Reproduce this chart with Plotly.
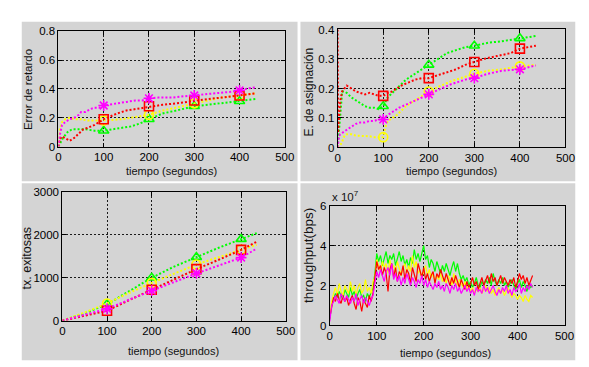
import plotly.graph_objects as go

W, H = 589, 367

# ---------------- data ----------------
# Panel 1: Error de retardo
err_red_t = [0, 3, 8, 15, 25, 35, 45, 55, 65, 80, 90, 100, 115, 130, 150, 170, 185, 200, 230, 260, 300, 330, 360, 400, 435]
err_red_v = [0, 0.05, 0.07, 0.06, 0.04, 0.06, 0.09, 0.12, 0.13, 0.15, 0.17, 0.19, 0.21, 0.23, 0.25, 0.26, 0.27, 0.28, 0.29, 0.3, 0.32, 0.33, 0.34, 0.355, 0.37]
err_grn_t = [0, 5, 10, 20, 30, 45, 60, 80, 100, 120, 140, 160, 180, 200, 230, 260, 300, 330, 360, 400, 435]
err_grn_v = [0, 0.03, 0.06, 0.1, 0.12, 0.12, 0.12, 0.11, 0.11, 0.12, 0.13, 0.14, 0.16, 0.19, 0.23, 0.25, 0.28, 0.29, 0.3, 0.315, 0.33]
err_yel_t = [0, 3, 8, 15, 25, 35, 50, 65, 80, 100, 120, 140, 160, 180, 200, 230, 260, 300, 330, 360, 400, 435]
err_yel_v = [0, 0.12, 0.17, 0.19, 0.2, 0.19, 0.19, 0.18, 0.18, 0.18, 0.185, 0.19, 0.2, 0.21, 0.22, 0.25, 0.27, 0.3, 0.32, 0.34, 0.355, 0.37]
err_mag_t = [0, 3, 8, 15, 25, 35, 45, 50, 60, 70, 80, 90, 100, 115, 130, 150, 170, 185, 200, 220, 250, 280, 300, 320, 350, 380, 400, 420, 435]
err_mag_v = [0, 0.08, 0.15, 0.17, 0.19, 0.2, 0.22, 0.24, 0.24, 0.26, 0.27, 0.27, 0.285, 0.29, 0.3, 0.31, 0.32, 0.32, 0.335, 0.34, 0.34, 0.35, 0.355, 0.36, 0.37, 0.38, 0.39, 0.405, 0.41]

# Panel 2: E. de asignacion
asg_red_t = [0, 1, 2, 4, 6, 10, 15, 20, 25, 30, 40, 50, 60, 70, 80, 90, 100, 110, 120, 130, 140, 155, 170, 185, 200, 220, 240, 260, 280, 300, 320, 350, 380, 400, 420, 435]
asg_red_v = [0.4, 0.05, 0.08, 0.12, 0.16, 0.19, 0.2, 0.21, 0.205, 0.2, 0.19, 0.185, 0.18, 0.185, 0.18, 0.175, 0.175, 0.185, 0.19, 0.2, 0.21, 0.22, 0.23, 0.235, 0.235, 0.245, 0.255, 0.265, 0.28, 0.29, 0.3, 0.31, 0.32, 0.335, 0.34, 0.345]
asg_grn_t = [0, 3, 6, 10, 15, 20, 30, 40, 50, 60, 70, 80, 90, 100, 110, 120, 135, 150, 170, 185, 200, 220, 240, 260, 280, 300, 330, 360, 400, 435]
asg_grn_v = [0, 0.05, 0.12, 0.19, 0.19, 0.185, 0.17, 0.16, 0.15, 0.14, 0.135, 0.135, 0.13, 0.14, 0.17, 0.185, 0.21, 0.23, 0.25, 0.265, 0.28, 0.3, 0.32, 0.33, 0.34, 0.345, 0.355, 0.36, 0.37, 0.378]
asg_yel_t = [0, 5, 10, 15, 20, 30, 40, 50, 60, 70, 80, 90, 100, 105, 110, 120, 130, 140, 150, 165, 180, 200, 220, 250, 280, 300, 330, 360, 400, 435]
asg_yel_v = [0, 0.005, 0.02, 0.04, 0.045, 0.045, 0.04, 0.04, 0.04, 0.038, 0.035, 0.035, 0.035, 0.07, 0.09, 0.1, 0.11, 0.125, 0.14, 0.155, 0.17, 0.19, 0.205, 0.225, 0.24, 0.25, 0.26, 0.265, 0.275, 0.28]
asg_mag_t = [0, 3, 6, 10, 20, 30, 40, 50, 60, 70, 80, 90, 100, 110, 120, 135, 150, 165, 180, 200, 220, 250, 280, 300, 330, 360, 400, 435]
asg_mag_v = [0, 0.04, 0.045, 0.05, 0.06, 0.07, 0.08, 0.085, 0.085, 0.09, 0.09, 0.095, 0.095, 0.11, 0.12, 0.135, 0.145, 0.155, 0.165, 0.18, 0.195, 0.215, 0.23, 0.235, 0.25, 0.26, 0.265, 0.278]

# Panel 3: tx. exitosas
tx_t = [0, 50, 100, 150, 200, 250, 300, 350, 400, 435]
tx_grn = [0, 170, 380, 700, 1000, 1260, 1480, 1700, 1900, 2040]
tx_yel = [0, 190, 400, 650, 880, 1100, 1310, 1480, 1660, 1770]
tx_red = [0, 110, 230, 480, 720, 960, 1200, 1420, 1650, 1840]
tx_mag = [0, 130, 275, 490, 700, 900, 1100, 1290, 1470, 1680]

# Panel 4: throughput (x 10^7 bps), sampled every 4 s
thr_step = 4
thr_grn = [0.3, 1.1, 1.3, 1.6, 1.4, 1.7, 1.5, 1.3, 1.8, 1.6,
           1.4, 1.9, 1.5, 1.7, 1.3, 1.6, 1.8, 1.4, 1.5, 1.2,
           1.6, 1.4, 1.7, 1.9, 2.6, 3.6, 3.2, 3.5, 3.0, 3.4,
           3.7, 3.1, 3.5, 3.3, 3.6, 3.0, 3.4, 3.7, 3.2, 3.5,
           3.0, 3.3, 2.9, 3.4, 3.1, 3.8, 3.3, 3.6, 3.2, 3.7,
           4.0, 3.3, 3.5, 2.9, 3.3, 3.1, 2.7, 3.2, 2.9, 2.6,
           3.0, 2.7, 3.1, 2.8, 2.5, 2.9, 3.2, 2.7, 3.1, 2.6,
           2.3, 2.5, 2.2, 2.4, 2.0, 2.2, 1.9, 2.1, 2.4, 2.0,
           1.9, 2.2, 2.0, 2.3, 2.1, 2.4, 2.0, 2.6, 2.2, 2.0,
           2.3, 2.1, 2.4, 2.0, 2.2, 1.9, 2.1, 2.3, 2.0, 1.8,
           2.1, 2.3, 1.9, 2.2, 2.0, 1.7, 2.1, 1.9, 2.0]
thr_yel = [0.5, 1.2, 1.6, 1.9, 1.5, 2.1, 1.7, 1.5, 2.0, 1.8,
           1.6, 2.2, 1.7, 2.0, 1.5, 1.9, 2.1, 1.6, 1.8, 2.3,
           1.7, 1.9, 1.6, 2.2, 2.4, 3.3, 3.0, 2.7, 3.2, 2.9,
           3.1, 2.6, 3.3, 2.8, 3.0, 2.7, 3.2, 2.8, 2.5, 2.9,
           3.1, 2.6, 3.0, 2.7, 3.5, 2.9, 3.2, 2.6, 2.8, 2.4,
           2.7, 3.0, 2.5, 2.8, 2.4, 2.6, 2.2, 2.5, 2.3, 2.6,
           2.2, 2.4, 2.1, 2.5, 2.3, 2.0, 2.6, 2.2, 2.0, 2.3,
           2.1, 1.9, 2.2, 1.8, 2.0, 1.7, 1.9, 1.6, 1.8, 1.7,
           1.9, 1.6, 1.8, 2.0, 1.7, 1.9, 1.6, 1.8, 1.5, 1.7,
           1.9, 1.6, 1.8, 1.5, 1.7, 1.9, 1.6, 1.4, 1.6, 1.5,
           1.3, 1.5, 1.4, 1.2, 1.5, 1.3, 1.2, 1.5, 1.4]
thr_red = [0.4, 0.9, 1.4, 1.2, 1.6, 1.3, 1.1, 1.5, 1.2, 1.4,
           1.0, 1.3, 1.5, 1.1, 0.8, 1.4, 1.2, 0.7, 1.3, 1.1,
           0.9, 1.5, 1.2, 1.6, 2.3, 3.2, 2.8, 3.0, 2.5, 2.9,
           2.6, 1.7, 2.8, 3.1, 2.4, 2.9, 2.2, 2.7, 2.5, 3.0,
           2.3, 2.8, 2.6, 2.1, 2.9, 2.5, 2.2, 3.1, 2.7, 2.4,
           2.9, 2.3, 2.6, 2.2, 2.5, 2.7, 2.1, 2.6, 2.4, 2.8,
           2.5, 2.2, 2.6, 2.3, 2.0, 2.4, 2.1, 2.5, 2.2, 1.9,
           2.3, 2.0, 1.8, 2.2, 1.9, 2.1, 2.4, 2.0, 2.2, 1.8,
           2.1, 2.4, 2.0, 2.3, 2.5, 2.1, 2.6, 2.2, 2.4, 2.0,
           2.3, 2.5, 2.1, 2.4, 2.2, 2.0, 2.3, 2.1, 2.4, 1.9,
           2.2, 2.6, 2.3, 2.5, 2.1, 2.4, 2.0, 2.3, 2.5]
thr_mag = [0.2, 1.0, 1.2, 1.5, 1.3, 1.1, 1.6, 1.4, 1.2, 1.5,
           1.3, 1.1, 1.4, 1.2, 1.6, 1.0, 1.3, 1.5, 1.1, 1.4,
           1.2, 1.0, 1.3, 1.5, 2.1, 2.7, 2.4, 2.8, 2.5, 2.2,
           2.7, 2.9, 2.5, 3.1, 2.3, 2.6, 2.2, 2.5, 2.0, 2.4,
           2.1, 2.6, 2.3, 2.0, 2.4, 2.2, 1.9, 2.3, 2.1, 2.5,
           2.0, 2.3, 1.9, 2.2, 2.0, 1.8, 2.1, 1.9, 2.2, 1.8,
           2.0, 1.7, 2.1, 1.9, 1.6, 2.0, 1.8, 2.1, 1.7, 1.9,
           1.6, 1.8, 2.0, 1.7, 1.9, 1.6, 1.8, 1.5, 1.9, 1.7,
           1.8, 1.6, 2.0, 1.7, 1.9, 1.6, 1.8, 2.0, 1.7, 1.5,
           1.8, 1.6, 1.9, 1.7, 2.0, 1.6, 1.8, 1.5, 1.9, 1.7,
           1.8, 2.1, 1.6, 1.9, 1.7, 2.0, 1.8, 2.1, 1.9]

marker_times = [100, 200, 300, 400]

RED, GRN, YEL, MAG = "#ff0000", "#00ff00", "#ffff00", "#ff00ff"
FONT = "Liberation Sans, Arial, sans-serif"

# ---------------- layout geometry (pixels) ----------------
def xd(l, r):
    return [l / W, r / W]

def yd(t, b):
    return [1 - b / H, 1 - t / H]

panels = [  # x0, y0, x1, y1 (gray backgrounds)
    (11, 8, 293, 173), (296, 8, 577, 173), (11, 175, 293, 358), (296, 175, 577, 358)
]
plots = {  # left, top, right, bottom of plotting areas
    1: (48.5, 18, 280, 137),
    2: (334, 16, 567, 138),
    3: (52.5, 184, 281, 317),
    4: (326, 198, 566, 322),
}

fig = go.Figure()

def add_series(ax, t, v, color, symbol):
    xa = "x" if ax == 1 else f"x{ax}"
    ya = "y" if ax == 1 else f"y{ax}"
    fig.add_trace(go.Scatter(x=t, y=v, mode="lines", xaxis=xa, yaxis=ya,
                             line=dict(color=color, width=2, dash="2px,2px"),
                             hoverinfo="skip", showlegend=False))
    mx = [tt for tt in marker_times if tt in t]
    my = [v[t.index(tt)] for tt in mx]
    fig.add_trace(go.Scatter(x=mx, y=my, mode="markers", xaxis=xa, yaxis=ya,
                             marker=dict(symbol=symbol, size=9, color=color,
                                         line=dict(color=color, width=1.6)),
                             hoverinfo="skip", showlegend=False))

add_series(1, err_grn_t, err_grn_v, GRN, "triangle-up-open")
add_series(1, err_yel_t, err_yel_v, YEL, "circle-open")
add_series(1, err_red_t, err_red_v, RED, "square-open")
add_series(1, err_mag_t, err_mag_v, MAG, "asterisk-open")

add_series(2, asg_grn_t, asg_grn_v, GRN, "triangle-up-open")
add_series(2, asg_yel_t, asg_yel_v, YEL, "circle-open")
add_series(2, asg_red_t, asg_red_v, RED, "square-open")
add_series(2, asg_mag_t, asg_mag_v, MAG, "asterisk-open")

add_series(3, tx_t, tx_grn, GRN, "triangle-up-open")
add_series(3, tx_t, tx_yel, YEL, "circle-open")
add_series(3, tx_t, tx_red, RED, "square-open")
add_series(3, tx_t, tx_mag, MAG, "asterisk-open")

for vals, col in [(thr_grn, GRN), (thr_yel, YEL), (thr_red, RED), (thr_mag, MAG)]:
    tt = list(range(0, thr_step * len(vals), thr_step))
    fig.add_trace(go.Scatter(x=tt, y=vals, mode="lines", xaxis="x4", yaxis="y4",
                             line=dict(color=col, width=1.2),
                             hoverinfo="skip", showlegend=False))

xticks = [0, 100, 200, 300, 400, 500]
ycfg = {
    1: ([0, 0.2, 0.4, 0.6, 0.8], ["0", "0.2", "0.4", "0.6", "0.8"], [0, 0.8]),
    2: ([0, 0.1, 0.2, 0.3, 0.4], ["0", "0.1", "0.2", "0.3", "0.4"], [0, 0.4]),
    3: ([0, 1000, 2000, 3000], ["0", "1000", "2000", "3000"], [0, 3000]),
    4: ([0, 2, 4, 6], ["0", "2", "4", "6"], [0, 6]),
}

common = dict(showline=True, linecolor="black", linewidth=1, mirror="ticks",
              ticks="inside", ticklen=4, tickcolor="black", tickwidth=1,
              showgrid=True, gridcolor="#1a1a1a", griddash="2px,2px", gridwidth=1,
              zeroline=False, tickfont=dict(family=FONT, size=11.5, color="#000"),
              fixedrange=True)

layout = {}
for k in (1, 2, 3, 4):
    l, t, r, b = plots[k]
    xs = "xaxis" if k == 1 else f"xaxis{k}"
    ys = "yaxis" if k == 1 else f"yaxis{k}"
    anc_x = "y" if k == 1 else f"y{k}"
    anc_y = "x" if k == 1 else f"x{k}"
    tv, tt, rng = ycfg[k]
    layout[xs] = dict(domain=xd(l, r), anchor=anc_x, range=[0, 500],
                      tickvals=xticks, ticktext=[str(v) for v in xticks], **common)
    layout[ys] = dict(domain=yd(t, b), anchor=anc_y, range=rng,
                      tickvals=tv, ticktext=tt, **common)

shapes = [dict(type="rect", xref="paper", yref="paper", layer="below",
               x0=x0 / W, x1=x1 / W, y0=1 - y1 / H, y1=1 - y0 / H,
               fillcolor="#d4d4d4", line=dict(width=0)) for (x0, y0, x1, y1) in panels]

def ann(text, x, y, angle=0, xanchor="center", size=11):
    return dict(text=text, x=x / W, y=1 - y / H, xref="paper", yref="paper",
                showarrow=False, textangle=angle, xanchor=xanchor, yanchor="middle",
                font=dict(family=FONT, size=size, color="#111"))

annotations = [
    ann("tiempo (segundos)", 164, 162),
    ann("tiempo (segundos)", 450, 162),
    ann("tiempo (segundos)", 166, 348),
    ann("tiempo (segundos)", 444, 350),
    ann("Error de retardo", 18, 78, -90, size=11.5),
    ann("E. de asignación", 305, 81, -90, size=12),
    ann("tx. exitosas", 16, 252, -90, size=12.5),
    ann("throughput(bps)", 305, 250, -90, size=13.5),
    ann("x 10<sup>7</sup>", 326, 188, 0, "left", size=11.5),
]

fig.update_layout(width=W, height=H, margin=dict(l=0, r=0, t=0, b=0),
                  paper_bgcolor="white", plot_bgcolor="white",
                  shapes=shapes, annotations=annotations, showlegend=False,
                  **layout)

fig.write_html("out.html")
